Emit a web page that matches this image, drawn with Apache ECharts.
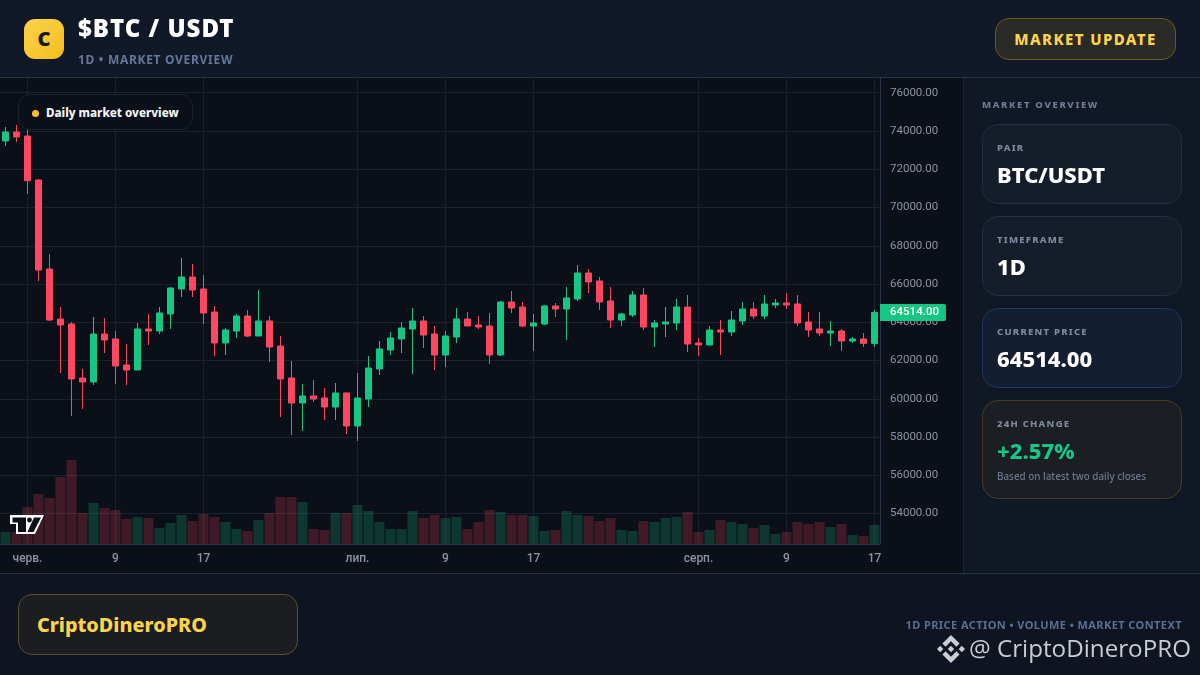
<!DOCTYPE html>
<html><head><meta charset="utf-8">
<script src="https://cdn.jsdelivr.net/npm/echarts@6/dist/echarts.min.js"></script>
<style>
*{box-sizing:border-box;margin:0;padding:0}
html,body{width:1200px;height:675px;overflow:hidden;background:#0b0f18;font-family:"Noto Sans",sans-serif}
.a{position:absolute}
#chart{position:absolute;left:0;top:0;width:1200px;height:675px}
.card{position:absolute;left:982px;width:200px;border-radius:16px;border:1px solid #232e42;background:#151c2a;padding:0 14px}
.lab{position:absolute;left:14px;top:15.5px;font-size:9.5px;font-weight:800;letter-spacing:1.25px;color:#7d899c;line-height:14px}
.val{position:absolute;left:14px;top:35px;font-size:22px;font-weight:800;color:#fff;line-height:28px;white-space:nowrap}
</style></head><body>
<div class="a" style="left:0;top:0;width:1200px;height:78px;background:#111827;border-bottom:1px solid #273144"></div>
<div class="a" style="left:963px;top:78px;width:237px;height:495px;background:#101725;border-left:1px solid #1c2536"></div>
<div class="a" style="left:0;top:573px;width:1200px;height:102px;background:#0e1420;border-top:1px solid #273144"></div>
<div id="chart"></div>

<div class="a" style="left:24px;top:19px;width:40px;height:40px;border-radius:11px;background:linear-gradient(135deg,#fcd34d,#f5bd1c);color:#111827;font-weight:900;font-size:20px;line-height:40px;text-align:center">C</div>
<div class="a" style="left:78px;top:11px;font-size:24px;font-weight:900;letter-spacing:1px;color:#fff;line-height:34px;white-space:nowrap">$BTC / USDT</div>
<div class="a" style="left:78px;top:51px;font-size:12px;font-weight:700;letter-spacing:.7px;color:#64789a;line-height:18px;white-space:nowrap">1D • MARKET OVERVIEW</div>
<div class="a" style="left:995px;top:18px;width:181px;height:42px;border-radius:14px;border:1px solid #6b5a20;background:#2a2a26;color:#fcd34d;font-weight:800;font-size:15px;letter-spacing:1.4px;line-height:41px;text-align:center;white-space:nowrap">MARKET UPDATE</div>

<div class="a" style="left:18px;top:94px;width:175px;height:36px;border-radius:12px;border:1px solid #1b2230;background:#0b0f18"></div>
<div class="a" style="left:32px;top:110px;width:7px;height:7px;border-radius:50%;background:#fbbf24"></div>
<div class="a" style="left:46px;top:104px;font-size:11.6px;font-weight:800;color:#f3f5f8;line-height:17px;white-space:nowrap">Daily market overview</div>

<svg class="a" style="left:8px;top:513px" width="40" height="24" viewBox="0 0 40 24">
<path d="M2 2H36L27 21H8V11H2Z" fill="#fff"/>
<path d="M4.500 4.500H18V19H10V9.500H4.500Z" fill="#0b0f18"/>
<path d="M26 4.500H33L25.500 19H19.500Z" fill="#0b0f18"/>
<circle cx="21.500" cy="7" r="2.400" fill="#0b0f18"/>
</svg>

<div class="a" style="left:982px;top:98px;font-size:9.5px;font-weight:800;letter-spacing:1.65px;color:#6f7d94;line-height:14px;white-space:nowrap">MARKET OVERVIEW</div>
<div class="card" style="top:124px;height:80px"><div class="lab">PAIR</div><div class="val">BTC/USDT</div></div>
<div class="card" style="top:216px;height:80px"><div class="lab">TIMEFRAME</div><div class="val">1D</div></div>
<div class="card" style="top:308px;height:80px;background:#131e31;border-color:#243757"><div class="lab">CURRENT PRICE</div><div class="val">64514.00</div></div>
<div class="card" style="top:400px;height:99px;background:#1b1e22;border-color:#453c21"><div class="lab">24H CHANGE</div><div class="val" style="color:#16c784">+2.57%</div><div style="position:absolute;left:14px;top:68px;font-size:9.9px;font-weight:500;color:#6d788b;line-height:14px;white-space:nowrap">Based on latest two daily closes</div></div>

<div class="a" style="left:18px;top:594px;width:280px;height:61px;border-radius:14px;border:1px solid #5a4f2c;background:#1b1d21"></div>
<div class="a" style="left:37px;top:611px;font-size:19.8px;font-weight:800;color:#fcd34d;line-height:28px;white-space:nowrap">CriptoDineroPRO</div>
<div class="a" style="right:18px;top:617px;font-size:11px;font-weight:700;letter-spacing:.42px;color:#5a6f93;line-height:16px;white-space:nowrap">1D PRICE ACTION • VOLUME • MARKET CONTEXT</div>
<svg class="a" style="left:937px;top:635px" width="28" height="28" viewBox="0 0 24 24" fill="#c9ccd1">
<path d="M16.624 13.9202l2.7175 2.7154-7.353 7.353-7.353-7.352 2.7175-2.7164 4.6355 4.6595 4.6356-4.6595zm4.6366-4.6366L24 12l-2.7154 2.7164L18.5682 12l2.6924-2.7164zm-9.272.001l2.7163 2.6914-2.7164 2.7174v-.001L9.2721 12l2.7164-2.7154zm-9.2722-.001L5.4088 12l-2.6914 2.6924L0 12l2.7164-2.7164zM11.9885.0115l7.353 7.329-2.7174 2.7154-4.6356-4.6356-4.6355 4.6595-2.7174-2.7154 7.353-7.353z"/>
</svg>
<div class="a" style="left:969px;top:629px;font-family:'Open Sans',sans-serif;font-size:24.2px;font-weight:400;color:#c9ccd1;line-height:38px;white-space:nowrap">@ CriptoDineroPRO</div>

<script>
// dates, oldest first (30 May to 17 Aug)
const categories = [
'05-30','05-31','06-01','06-02','06-03','06-04','06-05','06-06','06-07','06-08','06-09','06-10','06-11','06-12','06-13','06-14','06-15','06-16','06-17','06-18','06-19','06-20','06-21','06-22','06-23','06-24','06-25','06-26','06-27','06-28','06-29','06-30',
'07-01','07-02','07-03','07-04','07-05','07-06','07-07','07-08','07-09','07-10','07-11','07-12','07-13','07-14','07-15','07-16','07-17','07-18','07-19','07-20','07-21','07-22','07-23','07-24','07-25','07-26','07-27','07-28','07-29','07-30','07-31',
'08-01','08-02','08-03','08-04','08-05','08-06','08-07','08-08','08-09','08-10','08-11','08-12','08-13','08-14','08-15','08-16','08-17'];
const opens = [73477,73947,73738,71438,66786,64172,63911,61089,60880,63388,63127,61768,61507,63650,63545,64434,65741,66368,65741,64538,62918,63545,64329,63284,64068,62761,61089,59782,60148,60043,59573,60305,58579,59991,61559,62552,63127,63650,64068,63388,62291,63232,64172,63859,63807,62291,65061,64800,63807,63911,64852,64695,65218,66577,66159,65113,64120,64382,65427,63754,63911,63963,64800,62918,62814,63598,63493,64068,64695,64329,64905,65009,64957,64016,63650,63441,63545,63022,63127,62897];
const closes = [73947,73686,71401,66734,64120,63859,61036,60880,63388,63075,61716,61507,63650,63545,64486,65793,66368,65689,64486,62918,63598,64329,63284,64068,62709,61036,59782,60148,59991,59573,60305,58579,60043,61611,62604,63179,63702,64068,63336,62291,63284,64172,63807,63754,62291,65061,64748,63807,63963,64852,64695,65270,66577,66107,65061,64120,64434,65427,63754,63963,64016,64800,62866,62814,63598,63493,64120,64695,64329,64957,65009,64905,63963,63598,63441,63545,63022,63127,62897,64514];
const lows = [73215,73424,70706,66159,64068,61350,59102,59468,60723,62395,60775,60723,61507,62814,63388,63650,65322,65322,63911,62238,62291,63179,63232,63284,61925,59050,58105,58318,59834,58893,58893,58161,57796,59573,61245,62291,62395,61298,62657,61507,61664,62918,63807,63650,61820,62238,64486,63754,62500,63859,64277,63075,65113,65531,64643,63702,63807,64277,63598,62709,63232,63598,62447,62238,62814,62291,63284,63859,64172,64172,64748,64695,63807,63232,63284,62761,62500,62918,62709,62709];
const highs = [74208,74313,74104,71490,67570,64800,64016,61559,64277,64225,63545,62866,63963,64434,64800,65845,67361,67047,66472,64852,63702,64434,64643,65689,64329,63284,61977,60775,60984,60566,60827,60305,61350,62238,63022,63493,64016,64748,64329,63807,63545,64748,64538,64329,64486,65113,65636,65061,64434,64905,65009,65845,66995,66786,66368,65845,64486,65636,65793,64120,64800,65218,65427,63179,63807,64120,64591,65061,65061,65427,65218,65531,65427,64538,64538,64068,63650,63232,63441,64643];
const volumes = [12,12,37,50,46,67,84,31,41,36,34,25,27,26,16,21,29,23,30,27,22,15,13,24,31,47,47,42,15,14,31,31,39,33,22,15,15,33,26,29,26,27,15,22,34,32,29,29,28,13,14,33,29,28,23,26,14,13,23,22,26,27,32,12,14,24,22,20,16,19,10,12,22,20,22,17,20,9,8,19];
const tickLabels = {'06-01':'черв.','06-09':'9','06-17':'17','07-01':'лип.','07-09':'9','07-17':'17','08-01':'серп.','08-09':'9','08-17':'17'};
const priceTicks = [54000,56000,58000,60000,62000,64000,66000,68000,70000,72000,74000,76000];
const lastPrice = 64514;

const UP='#16c784', DOWN='#ff4761', GRID='#1a212e', AXIS='#2a3548', TXT='#8b93a1';
const isTick=(i)=>tickLabels[categories[i]]!==undefined;
const chart=echarts.init(document.getElementById('chart'),null,{renderer:'canvas'});
chart.setOption({
  animation:false,
  backgroundColor:'transparent',
  grid:[{left:0,top:78,width:880,height:466},{left:0,top:444,width:880,height:100}],
  xAxis:[
    {type:'category',data:categories,gridIndex:0,boundaryGap:true,
     axisLine:{show:true,lineStyle:{color:AXIS}},axisTick:{show:false,alignWithLabel:true},
     axisPointer:{show:false},
     splitLine:{show:true,alignWithLabel:true,interval:(i)=>isTick(i),lineStyle:{color:GRID,width:1}},
     axisLabel:{show:true,interval:(i)=>isTick(i),formatter:(v)=>tickLabels[v]||'',color:TXT,fontSize:12,fontWeight:500,fontFamily:'Roboto',margin:9,hideOverlap:false}},
    {type:'category',data:categories,gridIndex:1,boundaryGap:true,axisLine:{show:false},axisTick:{show:false},axisLabel:{show:false},splitLine:{show:false}}
  ],
  yAxis:[
    {type:'value',gridIndex:0,position:'right',min:52411,max:76770,scale:true,
     axisLine:{show:true,lineStyle:{color:AXIS}},
     axisTick:{show:false,customValues:priceTicks},
     splitLine:{show:true,lineStyle:{color:GRID,width:1}},
     axisLabel:{customValues:priceTicks,formatter:(v)=>v.toFixed(2),color:TXT,fontSize:11.5,fontFamily:'Roboto',margin:10,padding:[3,0,0,0]}},
    {type:'value',gridIndex:1,min:0,max:100,axisLine:{show:false},axisTick:{show:false},axisLabel:{show:false},splitLine:{show:false}}
  ],
  series:[
    {type:'bar',name:'Volume',xAxisIndex:1,yAxisIndex:1,barWidth:10,z:2,
     data:volumes.map((v,i)=>({value:v,itemStyle:{color:closes[i]>=opens[i]?'rgba(22,199,132,0.22)':'rgba(255,71,97,0.22)'}}))},
    {type:'candlestick',name:'BTC/USDT',xAxisIndex:0,yAxisIndex:0,barWidth:7,z:3,
     itemStyle:{color:UP,color0:DOWN,borderColor:UP,borderColor0:DOWN,borderWidth:1},
     data:categories.map((c,i)=>[opens[i],closes[i],lows[i],highs[i]]),
     markLine:{silent:true,symbol:'none',animation:false,z:10,
       lineStyle:{color:'transparent',width:1,type:'solid'},
       data:[{yAxis:lastPrice}],
       label:{show:true,position:'end',distance:0,formatter:()=>lastPrice.toFixed(2),color:'#fff',fontSize:11.5,fontFamily:'Roboto',fontWeight:500,backgroundColor:UP,padding:[2,7,2,10],borderRadius:[0,2,2,0],lineHeight:13,opacity:1}}}
  ]
});
</script>
</body></html>
